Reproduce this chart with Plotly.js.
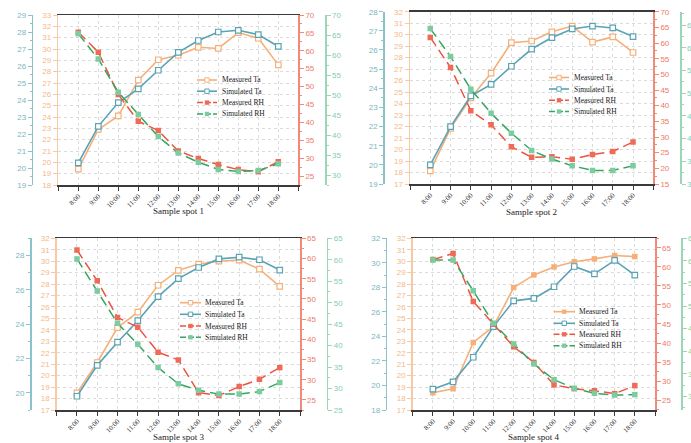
<!DOCTYPE html>
<html>
<head>
<meta charset="utf-8">
<script src="https://cdn.plot.ly/plotly-3.0.1.min.js"></script>
<style>
  html, body { margin: 0; padding: 0; background: #ffffff; }
  #chart { width: 691px; height: 443px; }
</style>
</head>
<body>
<div id="chart"></div>
<script>
// Hourly observation times
const times = ['8:00', '9:00', '10:00', '11:00', '12:00', '13:00', '14:00', '15:00', '16:00', '17:00', '18:00'];

// Sample spot 1
const spot1MeasuredTa  = [19.4, 22.9, 24.1, 27.25, 29.05, 29.45, 30.15, 30.05, 31.45, 30.95, 28.6];
const spot1SimulatedTa = [20.3, 22.45, 23.85, 24.65, 25.75, 26.8, 27.5, 28.0, 28.1, 27.85, 27.15];
const spot1MeasuredRH  = [65.2, 59.6, 47.8, 40.3, 37.7, 32.0, 29.9, 28.2, 26.8, 26.2, 29.0];
const spot1SimulatedRH = [65.3, 59.0, 50.7, 45.1, 39.6, 35.5, 33.2, 31.4, 30.9, 31.1, 32.8];

// Sample spot 2
const spot2MeasuredTa  = [18.15, 21.85, 24.5, 26.65, 29.3, 29.45, 30.25, 30.75, 29.35, 29.8, 28.45];
const spot2SimulatedTa = [20.0, 22.0, 23.6, 24.2, 25.15, 26.05, 26.65, 27.1, 27.25, 27.15, 26.7];
const spot2MeasuredRH  = [61.8, 52.2, 38.4, 33.9, 26.9, 23.5, 23.7, 22.9, 24.4, 25.4, 28.4];
const spot2SimulatedRH = [64.3, 58.1, 50.9, 45.6, 41.2, 37.4, 35.5, 34.0, 33.0, 33.0, 34.0];

// Sample spot 3
const spot3MeasuredTa  = [18.5, 21.15, 24.2, 25.55, 27.9, 29.2, 29.75, 30.0, 30.1, 29.3, 27.8];
const spot3SimulatedTa = [19.8, 21.6, 22.95, 24.2, 25.6, 26.65, 27.3, 27.8, 27.9, 27.75, 27.15];
const spot3MeasuredRH  = [62.1, 54.5, 45.4, 43.0, 36.8, 34.9, 26.8, 26.1, 28.3, 30.1, 33.0];
const spot3SimulatedRH = [60.2, 52.7, 45.2, 40.3, 34.9, 31.1, 29.6, 28.7, 28.7, 29.3, 31.4];

// Sample spot 4
const spot4MeasuredTa  = [18.5, 18.85, 22.9, 24.3, 27.7, 28.8, 29.5, 29.95, 30.2, 30.5, 30.4];
const spot4SimulatedTa = [19.7, 20.3, 22.3, 24.8, 26.9, 27.1, 28.05, 29.7, 29.1, 30.2, 29.0];
const spot4MeasuredRH  = [61.9, 63.5, 50.9, 44.9, 39.0, 34.9, 29.0, 28.0, 27.45, 26.7, 28.8];
const spot4SimulatedRH = [60.2, 60.2, 53.4, 46.2, 41.6, 37.2, 33.7, 31.8, 30.7, 30.3, 30.4];

const spotTitles = ['Sample spot 1', 'Sample spot 2', 'Sample spot 3', 'Sample spot 4'];
const seriesNames = ['Measured Ta', 'Simulated Ta', 'Measured RH', 'Simulated RH'];

const spots = [
  [spot1MeasuredTa, spot1SimulatedTa, spot1MeasuredRH, spot1SimulatedRH],
  [spot2MeasuredTa, spot2SimulatedTa, spot2MeasuredRH, spot2SimulatedRH],
  [spot3MeasuredTa, spot3SimulatedTa, spot3MeasuredRH, spot3SimulatedRH],
  [spot4MeasuredTa, spot4SimulatedTa, spot4MeasuredRH, spot4SimulatedRH]
];

// Page geometry (pixels) for each panel
const W = 691, H = 443;
const panels = [
  { plot: [58.3, 298.3, 15, 185], tealX: 31.7, greenX: 325, titleY: 211,
    orange: [18, 33], teal: [19, 29], tealDtick: 1, red: [22.5, 70], green: [27.5, 70],
    legend: { x0: 197, x1: 217, tx: 219.5, rows: [80, 91.2, 102.6, 114] }, filledTa: false },
  { plot: [410, 653.3, 11.7, 184], tealX: 383.3, greenX: 680, titleY: 211.5,
    orange: [17, 32], teal: [19, 28], tealDtick: 1, red: [15, 70], green: [30, 68],
    legend: { x0: 549, x1: 569, tx: 571.5, rows: [77.5, 89, 100.3, 111.5] }, filledTa: false },
  { plot: [56.7, 300, 238.3, 410], tealX: 30, greenX: 326.7, titleY: 437,
    orange: [17, 32], teal: [19, 29], tealDtick: 2, red: [22.5, 65], green: [25, 65],
    legend: { x0: 180, x1: 201, tx: 203, rows: [302.7, 314.3, 326, 337.3] }, filledTa: false },
  { plot: [412.7, 655, 238.3, 410], tealX: 385.7, greenX: 681, titleY: 437,
    orange: [17, 32], teal: [18, 32], tealDtick: 2, red: [22.4, 67.5], green: [27, 65],
    legend: { x0: 553.5, x1: 575, tx: 577, rows: [311.7, 323.3, 334.3, 345.7] }, filledTa: true }
];

const COL = {
  orange: '#f5b07a', orangeAxis: '#f8c9a2', orangeText: '#f4b988',
  teal: '#5aa3b4', tealAxis: '#8cc3cb', tealText: '#7db6c1',
  red: '#ef6b57', redLine: '#ec5440', redAxis: '#f28a7b', redText: '#ee7a69',
  green: '#7ccc9f', greenLine: '#37a562', greenAxis: '#9bd7b6', greenText: '#84cfa6',
  dark: '#3a3a3a', grid: '#d2d2d2'
};

const SANS = 'Liberation Sans, Arial, sans-serif';
const SERIF = 'Liberation Serif, Times New Roman, serif';

const px = v => v / W;
const py = v => 1 - v / H;
const yId = (i, j) => { const n = 4 * i + j + 1; return n === 1 ? 'y' : 'y' + n; };
const yKey = (i, j) => { const n = 4 * i + j + 1; return n === 1 ? 'yaxis' : 'yaxis' + n; };
const xId = i => (i === 0 ? 'x' : 'x' + (i + 1));
const xKey = i => (i === 0 ? 'xaxis' : 'xaxis' + (i + 1));

const xIndex = times.map((t, k) => k);
const tickVals = [-1, ...xIndex, times.length];
const tickText = ['', ...times, ''];

const traces = [];
const layout = {
  width: W, height: H,
  margin: { l: 0, r: 0, t: 0, b: 0 },
  paper_bgcolor: '#ffffff', plot_bgcolor: 'rgba(0,0,0,0)',
  showlegend: false,
  shapes: [], annotations: []
};

function seriesStyle(j, filledTa) {
  if (j === 0) return {
    line: { color: COL.orange, width: 1.6 },
    marker: filledTa
      ? { symbol: 'square', size: 5.5, color: COL.orange, line: { width: 0 } }
      : { symbol: 'square', size: 5.5, color: '#ffffff', line: { width: 1.2, color: COL.orange } }
  };
  if (j === 1) return {
    line: { color: COL.teal, width: 1.6 },
    marker: { symbol: 'square', size: 5.5, color: '#ffffff', line: { width: 1.2, color: COL.teal } }
  };
  if (j === 2) return {
    line: { color: COL.redLine, width: 1.5, dash: '10px,5px' },
    marker: { symbol: 'square', size: 5.5, color: COL.red, line: { width: 0 } }
  };
  return {
    line: { color: COL.greenLine, width: 1.5, dash: '10px,5px' },
    marker: { symbol: 'square', size: 5.5, color: COL.green, line: { width: 0 } }
  };
}

panels.forEach((p, i) => {
  const [x0, x1, yt, yb] = p.plot;
  const dom = [py(yb), py(yt)];

  spots[i].forEach((vals, j) => {
    const st = seriesStyle(j, p.filledTa);
    traces.push({
      type: 'scatter', mode: 'lines+markers', name: seriesNames[j],
      x: xIndex, y: vals, xaxis: xId(i), yaxis: yId(i, j),
      line: st.line, marker: st.marker, hoverinfo: 'skip'
    });
  });

  layout[xKey(i)] = {
    domain: [px(x0), px(x1)], anchor: yId(i, 0),
    range: [-1, times.length], tickvals: tickVals, ticktext: tickText,
    tickangle: -45, ticks: 'outside', ticklen: 4, tickwidth: 1, tickcolor: COL.dark,
    ticklabelstandoff: -1,
    showline: true, linecolor: COL.dark, linewidth: 1.5, mirror: true,
    showgrid: true, gridcolor: COL.grid, griddash: 'dot', gridwidth: 0.8,
    zeroline: false, automargin: false, fixedrange: true,
    tickfont: { family: SERIF, size: 7, color: '#333333' }
  };

  const common = { domain: dom, zeroline: false, automargin: false, fixedrange: true, showline: true,
                   linewidth: 1.5, ticks: 'outside', ticklen: 4, tickwidth: 1 };

  // Measured Ta scale (inner left, carries the grid)
  layout[yKey(i, 0)] = Object.assign({}, common, {
    anchor: xId(i), side: 'left', range: p.orange, dtick: 1, tick0: 0,
    linecolor: COL.orangeAxis, tickcolor: COL.orangeAxis,
    showgrid: true, gridcolor: COL.grid, griddash: 'dot', gridwidth: 0.8,
    tickfont: { family: SANS, size: 8, color: COL.orangeText }
  });
  // Simulated Ta scale (outer left)
  layout[yKey(i, 1)] = Object.assign({}, common, {
    overlaying: yId(i, 0), anchor: 'free', position: px(p.tealX), side: 'left',
    range: p.teal, dtick: p.tealDtick, tick0: 0,
    minor: { dtick: p.tealDtick / 2, ticks: 'outside', ticklen: 2, tickcolor: COL.tealAxis, showgrid: false },
    linecolor: COL.tealAxis, tickcolor: COL.tealAxis, showgrid: false,
    tickfont: { family: SANS, size: 8, color: COL.tealText }
  });
  // Measured RH scale (inner right)
  layout[yKey(i, 2)] = Object.assign({}, common, {
    overlaying: yId(i, 0), anchor: xId(i), side: 'right',
    range: p.red, dtick: 5, tick0: 0,
    minor: { dtick: 2.5, ticks: 'outside', ticklen: 2, tickcolor: COL.redAxis, showgrid: false },
    linecolor: COL.redAxis, tickcolor: COL.redAxis, showgrid: false,
    tickfont: { family: SANS, size: 8, color: COL.redText }
  });
  // Simulated RH scale (outer right)
  layout[yKey(i, 3)] = Object.assign({}, common, {
    overlaying: yId(i, 0), anchor: 'free', position: px(p.greenX), side: 'right',
    range: p.green, dtick: 5, tick0: 0,
    minor: { dtick: 2.5, ticks: 'outside', ticklen: 2, tickcolor: COL.greenAxis, showgrid: false },
    linecolor: COL.greenAxis, tickcolor: COL.greenAxis, showgrid: false,
    tickfont: { family: SANS, size: 8, color: COL.greenText }
  });

  // Panel caption under the time axis
  layout.annotations.push({
    xref: 'paper', yref: 'paper', x: px((x0 + x1) / 2), y: py(p.titleY),
    xanchor: 'center', yanchor: 'middle', showarrow: false,
    text: spotTitles[i], font: { family: SERIF, size: 9, color: '#222222' }
  });

  // Key inside the panel
  const lg = p.legend;
  seriesNames.forEach((name, j) => {
    const st = seriesStyle(j, p.filledTa);
    const ry = lg.rows[j];
    layout.shapes.push({
      type: 'line', xref: 'paper', yref: 'paper',
      x0: px(lg.x0), x1: px(lg.x1), y0: py(ry), y1: py(ry),
      line: { color: st.line.color, width: st.line.width, dash: j >= 2 ? '6px,2px' : 'solid' }
    });
    const xm = (lg.x0 + lg.x1) / 2, hs = 2.2;
    const mk = st.marker;
    layout.shapes.push({
      type: 'rect', xref: 'paper', yref: 'paper',
      x0: px(xm - hs), x1: px(xm + hs), y0: py(ry + hs), y1: py(ry - hs),
      fillcolor: mk.color,
      line: { color: (mk.line && mk.line.color) ? mk.line.color : mk.color, width: (mk.line && mk.line.width) ? 1 : 0 }
    });
    layout.annotations.push({
      xref: 'paper', yref: 'paper', x: px(lg.tx), y: py(ry),
      xanchor: 'left', yanchor: 'middle', showarrow: false,
      text: name, font: { family: SERIF, size: 7.5, color: '#222222' }
    });
  });
});

Plotly.newPlot('chart', traces, layout, { displayModeBar: false, staticPlot: true });
</script>
</body>
</html>
